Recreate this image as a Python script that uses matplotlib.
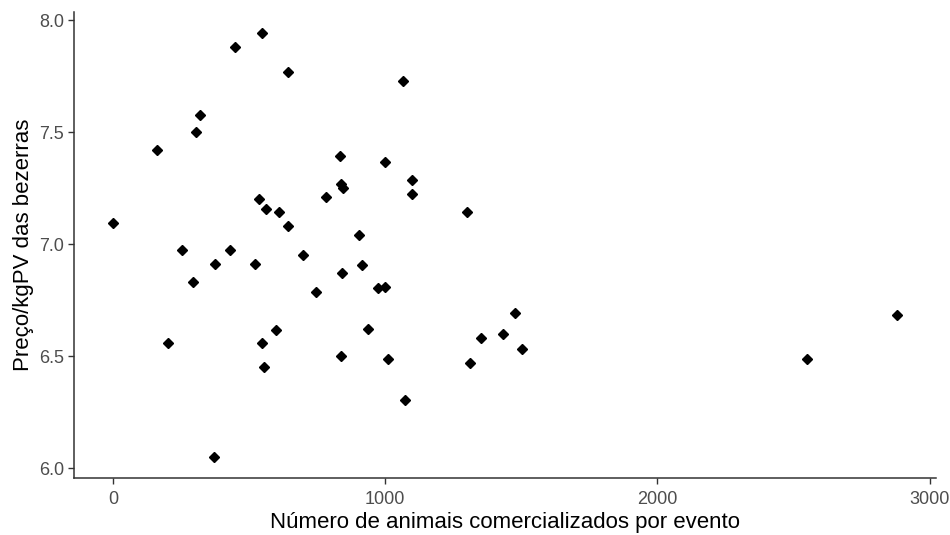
import matplotlib as mpl
mpl.use('Agg')
import matplotlib.pyplot as plt

#
#--- data
#
animais = [0, 162, 303, 320, 447, 548, 642, 536, 560, 609,
           642, 781, 832, 837, 843, 905, 253, 292, 374, 430,
           520, 699, 746, 842, 915, 975, 998, 938, 202, 548,
           554, 598, 837, 369, 1066, 999, 1099, 1099, 1299, 1011,
           1071, 1310, 1351, 1434, 1478, 1501, 2548, 2880]
preco = [7.097, 7.421, 7.503, 7.577, 7.883, 7.943, 7.768, 7.205, 7.158, 7.144,
         7.082, 7.211, 7.394, 7.268, 7.251, 7.042, 6.975, 6.832, 6.914, 6.975,
         6.914, 6.954, 6.786, 6.874, 6.908, 6.806, 6.811, 6.622, 6.561, 6.561,
         6.452, 6.616, 6.500, 6.052, 7.728, 7.367, 7.286, 7.225, 7.144, 6.487,
         6.304, 6.473, 6.582, 6.601, 6.696, 6.534, 6.487, 6.683]

xticks = [0, 1000, 2000, 3000]
yticks = [6.0, 6.5, 7.0, 7.5, 8.0]

xname = 'Número de animais comercializados por evento'
yname = 'Preço/kgPV das bezerras'

plt.rcParams['font.family'] = ['Liberation Sans', 'DejaVu Sans']

fig = plt.figure(figsize=(9.5, 5.35), dpi=100)
ax = fig.add_axes([0.0779, 0.1065, 0.9074, 0.8711])

ax.plot(animais, preco, linestyle='none', marker='D', ms=5.6, color='black')

#
#--- ggplot style expansion of the ranges (5%)
#
xr = max(animais) - min(animais)
yr = max(preco) - min(preco)
ax.set_xlim(min(animais) - 0.05 * xr, max(animais) + 0.05 * xr)
ax.set_ylim(min(preco) - 0.05 * yr, max(preco) + 0.05 * yr)

ax.set_xticks(xticks)
ax.set_xticklabels([str(v) for v in xticks])
ax.set_yticks(yticks)
ax.set_yticklabels(['%.1f' % v for v in yticks])

for side in ('top', 'right'):
    ax.spines[side].set_visible(False)
for side in ('left', 'bottom'):
    ax.spines[side].set_color('#333333')
    ax.spines[side].set_linewidth(1.1)

ax.tick_params(axis='both', length=4, width=1.0, color='#333333',
               labelcolor='#4d4d4d', labelsize=13)
ax.tick_params(axis='x', pad=5)
ax.tick_params(axis='y', pad=3)

ax.set_xlabel(xname, fontsize=16, color='black', labelpad=3)
ax.set_ylabel(yname, fontsize=16, color='black', labelpad=4)

plt.savefig('out.png', format='png', dpi=100)
